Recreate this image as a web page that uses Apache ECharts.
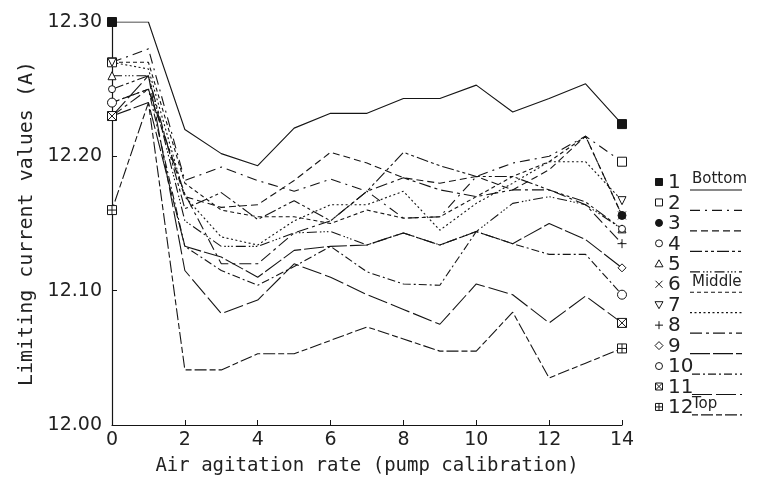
<!DOCTYPE html>
<html><head><meta charset="utf-8">
<script src="https://cdn.jsdelivr.net/npm/echarts@6/dist/echarts.min.js"></script>
<style>html,body{margin:0;padding:0;background:#fff}#c{width:760px;height:479px}</style>
</head><body><div id="c"></div>
<script>
// ---- data ----
const xValues = [0,1,2,3,4,5,6,7,8,9,10,11,12,13,14];
const seriesNames = ['1','2','3','4','5','6','7','8','9','10','11','12'];
const legendNotes = ['Bottom','','','','','Middle','','','','','','Top'];
const s1  = [12.300,12.300,12.220,12.202,12.193,12.221,12.232,12.232,12.243,12.243,12.253,12.233,12.243,12.254,12.224];
const s2  = [12.270,12.280,12.182,12.192,12.182,12.174,12.183,12.174,12.154,12.155,12.185,12.195,12.200,12.215,12.196];
const s3  = [12.240,12.250,12.170,12.162,12.164,12.182,12.203,12.195,12.184,12.180,12.185,12.175,12.190,12.215,12.156];
const s4  = [12.250,12.260,12.161,12.173,12.153,12.167,12.152,12.174,12.203,12.193,12.185,12.185,12.175,12.166,12.146];
const s5  = [12.260,12.260,12.152,12.133,12.133,12.143,12.144,12.134,12.143,12.134,12.144,12.165,12.170,12.164,12.146];
const s6  = [12.270,12.270,12.180,12.160,12.155,12.155,12.150,12.160,12.154,12.155,12.170,12.185,12.196,12.215,12.156];
const s7  = [12.270,12.265,12.170,12.140,12.134,12.152,12.164,12.164,12.174,12.145,12.165,12.180,12.196,12.196,12.167];
const s8  = [12.230,12.250,12.172,12.120,12.120,12.143,12.152,12.174,12.184,12.175,12.170,12.175,12.175,12.164,12.135];
const s9  = [12.230,12.240,12.133,12.125,12.110,12.130,12.133,12.134,12.143,12.134,12.144,12.135,12.150,12.138,12.117];
const s10 = [12.240,12.250,12.133,12.115,12.104,12.118,12.133,12.114,12.105,12.104,12.144,12.135,12.127,12.127,12.097];
const s11 = [12.230,12.260,12.115,12.083,12.093,12.120,12.110,12.097,12.086,12.075,12.105,12.097,12.076,12.096,12.076];
const s12 = [12.160,12.240,12.041,12.041,12.053,12.053,12.063,12.073,12.064,12.055,12.055,12.084,12.035,12.046,12.057];
const yTicks = [12.00,12.10,12.20,12.30];
const xTicks = [0,2,4,6,8,10,12,14];
const allValues = [s1,s2,s3,s4,s5,s6,s7,s8,s9,s10,s11,s12];

// ---- styles ----
const P = {
  rect:'M-3.5,-3.5L3.5,-3.5L3.5,3.5L-3.5,3.5Z',
  circ:'M-3.5,0A3.5,3.5 0 1,0 3.5,0A3.5,3.5 0 1,0 -3.5,0Z',
  tri:'M0,-4L4,3L-4,3Z',
  itri:'M-4,-3L4,-3L0,4Z',
  cross:'M-3.5,-3.5L3.5,3.5M3.5,-3.5L-3.5,3.5',
  plus:'M0,-4L0,4M-4,0L4,0',
  dia:'M0,-4L4,0L0,4L-4,0Z',
  boxx:'M-3.5,-3.5L3.5,-3.5L3.5,3.5L-3.5,3.5ZM-3.5,-3.5L3.5,3.5M3.5,-3.5L-3.5,3.5',
  boxp:'M-3.5,-3.5L3.5,-3.5L3.5,3.5L-3.5,3.5ZM0,-3.5L0,3.5M-3.5,0L3.5,0'
};
const shapes = ['rect','rect','circ','circ','tri','cross','itri','plus','dia','circ','boxx','boxp'];
const filled = [true,false,true,false,false,false,false,false,false,false,false,false];
const symSize = [9,9,8,7,8,8,8,9,8,9,9,9];
const dashes = [
  null,[10,5,2,5],[7,4],[12,3,3,3,3,3],[10,3,1.5,2,1.5,2,1.5,3],[4,3],[2,2.5],
  [12,4,3,4],[20,3],[8,3,2,3],[20,4],[6,3,12,3]
];
const ink = '#151515';
const FONT = 'DejaVu Sans';
const NAMEFONT = 'DejaVu Sans Mono';

const series = allValues.map((vals, k) => ({
  name: seriesNames[k],
  type: 'line',
  symbol: 'path://' + P[shapes[k]],
  symbolSize: symSize[k],
  z: 10 - (k % 3),
  lineStyle: {color: ink, width: 1.1, type: dashes[k] || 'solid'},
  itemStyle: {color: filled[k] ? ink : '#fff', borderColor: ink, borderWidth: 1},
  emphasis: {disabled: true},
  animation: false,
  data: vals.map((v, i) => (i === 0 || i === vals.length - 1)
    ? {value: [xValues[i], v]}
    : {value: [xValues[i], v], symbol: 'none'})
}));

// legend drawn with graphic primitives
function legendSymbol(shape, x, y, isFilled) {
  const st = {fill: isFilled ? ink : '#fff', stroke: ink, lineWidth: 1};
  const ln = (x1, y1, x2, y2) => ({type: 'line', shape: {x1: x + x1, y1: y + y1, x2: x + x2, y2: y + y2}, style: {stroke: ink, lineWidth: 1}});
  const box = {type: 'rect', shape: {x: x - 3.5, y: y - 3.5, width: 7, height: 7}, style: st};
  switch (shape) {
    case 'rect': return [box];
    case 'circ': return [{type: 'circle', shape: {cx: x, cy: y, r: 3.5}, style: st}];
    case 'tri': return [{type: 'polygon', shape: {points: [[x, y - 4], [x + 4, y + 3], [x - 4, y + 3]]}, style: st}];
    case 'itri': return [{type: 'polygon', shape: {points: [[x - 4, y - 3], [x + 4, y - 3], [x, y + 4]]}, style: st}];
    case 'dia': return [{type: 'polygon', shape: {points: [[x, y - 4], [x + 4, y], [x, y + 4], [x - 4, y]]}, style: st}];
    case 'cross': return [ln(-3.5, -3.5, 3.5, 3.5), ln(3.5, -3.5, -3.5, 3.5)];
    case 'plus': return [ln(0, -4, 0, 4), ln(-4, 0, 4, 0)];
    case 'boxx': return [box, ln(-3.5, -3.5, 3.5, 3.5), ln(3.5, -3.5, -3.5, 3.5)];
    case 'boxp': return [box, ln(0, -3.5, 0, 3.5), ln(-3.5, 0, 3.5, 0)];
  }
  return [];
}
const graphics = [];
const lx = 659, ly0 = 182, ldy = 20.45;
seriesNames.forEach((n, k) => {
  const y = ly0 + k * ldy;
  legendSymbol(shapes[k], lx, y, filled[k]).forEach(g => graphics.push(g));
  graphics.push({type: 'text', x: 668, y: y + 1, style: {text: n, font: '20px ' + FONT, fill: '#222',
    verticalAlign: 'middle'}});
  const x0 = n.length > 1 ? 692 : 690;
  graphics.push({type: 'line', shape: {x1: x0, y1: y + 8, x2: 742, y2: y + 8},
    style: {stroke: ink, lineWidth: 1.2, lineDash: dashes[k] || null}});
  if (legendNotes[k]) {
    graphics.push({type: 'text', x: 692, y: y + 5, style: {text: legendNotes[k], font: '15px ' + FONT, fill: '#222',
      verticalAlign: 'bottom'}});
  }
});

const chart = echarts.init(document.getElementById('c'), null, {renderer: 'canvas'});
chart.setOption({
  animation: false,
  backgroundColor: '#fff',
  grid: {left: 112, right: 138, top: 22, bottom: 54, containLabel: false, outerBoundsMode: 'none'},
  xAxis: {
    type: 'value', min: 0, max: 14, interval: 2,
    name: 'Air agitation rate (pump calibration)', nameLocation: 'middle', nameGap: 32,
    nameTextStyle: {fontSize: 19, fontFamily: NAMEFONT, color: '#222'},
    axisLine: {lineStyle: {color: ink, width: 1.2}},
    axisTick: {inside: true, length: 5, lineStyle: {color: ink}},
    axisLabel: {fontSize: 19, fontFamily: FONT, color: '#222', margin: 6,
      formatter: v => xTicks.includes(v) ? String(v) : ''},
    splitLine: {show: false}
  },
  yAxis: {
    type: 'value', min: 12.00, max: 12.30, interval: 0.1,
    name: 'Limiting current values (A)', nameLocation: 'middle', nameGap: 74,
    nameTextStyle: {fontSize: 20, fontFamily: NAMEFONT, color: '#222'},
    axisLine: {show: true, lineStyle: {color: ink, width: 1.2}},
    axisTick: {show: true, inside: true, length: 5, lineStyle: {color: ink}},
    axisLabel: {fontSize: 19, fontFamily: FONT, color: '#222', margin: 10,
      formatter: v => { const t = yTicks.find(a => Math.abs(a - v) < 1e-6); return t !== undefined ? t.toFixed(2) : ''; }},
    splitLine: {show: false}
  },
  series: series,
  graphic: graphics
});
</script></body></html>
